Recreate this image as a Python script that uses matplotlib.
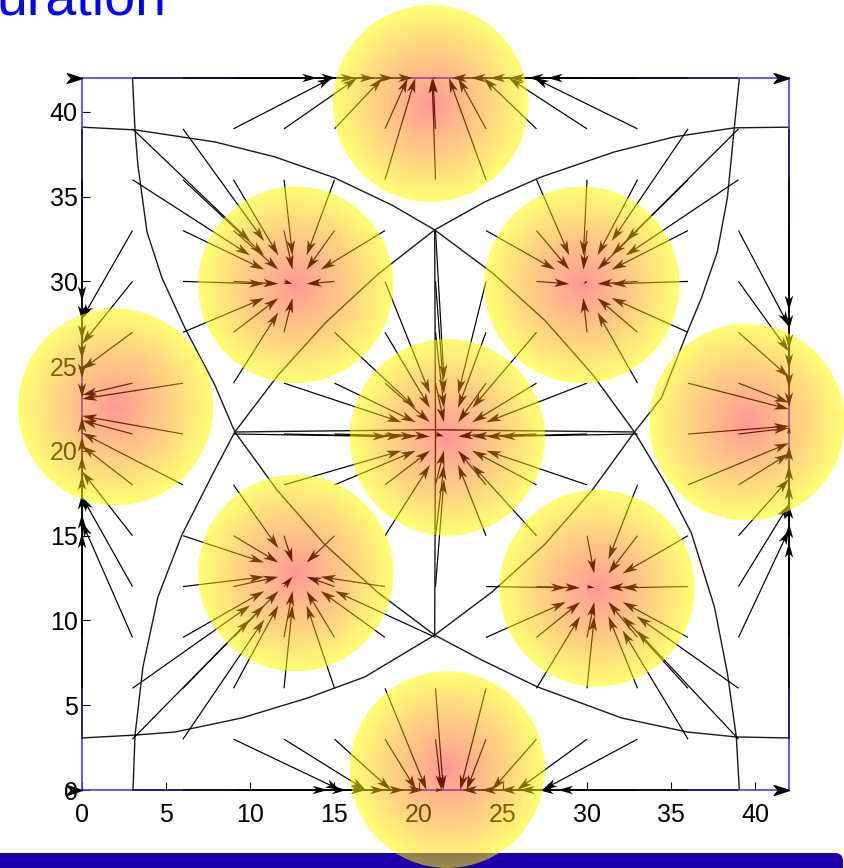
import numpy as np
import matplotlib.pyplot as plt
from matplotlib.patches import Circle, FancyBboxPatch
from matplotlib.path import Path

plt.rcParams['font.family'] = ['Liberation Sans', 'DejaVu Sans']

DOMAIN = 42.0
GRID_STEP = 3.0

# agents: circle centres and sensing radius
agent_ids = ["T", "UL", "UR", "L", "C", "R", "LL", "LR", "B"]
agent_x = [20.7, 12.7, 29.7, 2.0, 21.7, 39.5, 12.7, 30.6, 21.7]
agent_y = [40.5, 29.8, 29.8, 22.6, 20.8, 21.7, 12.8, 11.9, 1.2]
sensing_radius = 5.8

# where the gradient field of each cell points
goal_x = [20.7, 12.7, 29.7, -3.0, 21.7, 45.0, 12.7, 30.6, 21.7]
goal_y = [45.0, 29.8, 29.8, 22.6, 20.8, 21.7, 12.8, 11.9, -3.0]
gain = 0.72
border_gain = 0.62

# owner of every interior grid node, x = 3..39, rows from y = 39 down to y = 3
field_rows = [
    "UL UL T  T  T  T  T  T  T  T  T  UR UR",
    "UL UL UL UL UL T  T  T  UR UR UR UR UR",
    "L  UL UL UL UL UL C  UR UR UR UR UR R",
    "L  UL UL UL UL C  C  C  UR UR UR UR R",
    "L  UL UL UL C  C  C  C  C  UR UR UR R",
    "L  L  UL C  C  C  C  C  C  C  UR R  R",
    "L  L  C  C  C  C  C  C  C  C  C  R  R",
    "L  L  LL C  C  C  C  C  C  C  LR R  R",
    "L  LL LL LL LL C  C  C  C  LR LR LR R",
    "L  LL LL LL LL LL C  LR LR LR LR LR R",
    "L  LL LL LL LL LL LL LR LR LR LR LR R",
    "LL LL LL LL LL B  B  B  LR LR LR LR LR",
    "LL LL B  B  B  B  B  B  B  B  B  LR LR",
]

# cell boundaries (x list, y list)
cell_edges = [
    ([0.0, 3.15], [39.1, 38.94]),
    ([3.0, 3.15], [42.0, 38.94]),
    ([3.15, 7.89, 11.45, 15.01, 18.40, 20.95], [38.94, 38.23, 37.35, 36.11, 34.51, 33.04]),
    ([20.95, 23.92, 27.30, 31.63, 35.19, 38.75], [33.04, 34.69, 36.17, 37.64, 38.53, 39.06]),
    ([39.05, 38.75], [42.0, 39.06]),
    ([38.75, 42.0], [39.06, 39.1]),
    ([3.15, 3.32, 3.86, 4.75, 6.11, 7.89, 9.08], [38.94, 36.87, 32.92, 30.21, 27.26, 23.89, 21.12]),
    ([38.75, 38.34, 37.74, 36.80, 35.96, 34.42, 32.82], [39.06, 34.93, 31.74, 29.03, 27.02, 23.13, 21.12]),
    ([9.08, 7.89, 5.93, 4.51, 3.62, 3.15], [21.12, 18.88, 15.04, 11.39, 7.26, 3.24]),
    ([32.82, 34.78, 36.20, 37.57, 38.34, 38.87], [21.12, 17.88, 15.16, 10.80, 6.90, 3.13]),
    ([3.15, 5.52, 9.50, 13.41, 16.80, 20.95], [3.24, 3.42, 4.25, 5.43, 6.67, 9.14]),
    ([20.95, 23.74, 27.06, 32.05, 35.96, 38.87], [9.14, 7.67, 6.08, 4.25, 3.42, 3.13]),
    ([0.0, 3.15], [3.07, 3.24]),
    ([3.03, 3.15], [0.0, 3.24]),
    ([39.05, 38.87], [0.0, 3.13]),
    ([38.87, 42.0], [3.13, 3.07]),
    ([9.08, 11.67, 14.5, 17.6, 20.95], [21.12, 24.5, 27.6, 30.44, 33.04]),
    ([20.95, 24.37, 27.5, 30.3, 32.82], [33.04, 30.51, 27.7, 24.55, 21.12]),
    ([32.82, 30.3, 27.5, 24.37, 20.95], [21.12, 17.68, 14.5, 11.69, 9.14]),
    ([20.95, 17.53, 14.4, 11.6, 9.08], [9.14, 11.69, 14.5, 17.68, 21.12]),
    ([9.08, 20.95, 32.82], [21.12, 21.25, 21.12]),
    ([20.95, 21.0, 20.95], [33.04, 21.1, 9.14]),
]

x_ticks = [0, 5, 10, 15, 20, 25, 30, 35, 40]
y_ticks = [0, 5, 10, 15, 20, 25, 30, 35, 40]


def keep_inside(x0, y0, u, v):
    """Shorten a vector so its tip stays inside the square."""
    s = 1.0
    for p, d in ((x0, u), (y0, v)):
        if d != 0 and p + d > DOMAIN:
            s = min(s, (DOMAIN - p) / d)
        if d != 0 and p + d < 0:
            s = min(s, -p / d)
    return u * s, v * s


def build_field():
    idx = {name: i for i, name in enumerate(agent_ids)}
    nodes = np.arange(GRID_STEP, DOMAIN, GRID_STEP)
    X, Y, U, V = [], [], [], []
    for row, y0 in zip(field_rows, nodes[::-1]):
        for name, x0 in zip(row.split(), nodes):
            k = idx[name]
            u, v = keep_inside(x0, y0, gain * (goal_x[k] - x0), gain * (goal_y[k] - y0))
            X.append(x0); Y.append(y0); U.append(u); V.append(v)
    # nodes on the border only slide along it
    for e in nodes:
        X += [e, e, 0.0, DOMAIN]
        Y += [0.0, DOMAIN, e, e]
        U += [border_gain * (goal_x[idx["B"]] - e), border_gain * (goal_x[idx["T"]] - e), 0.0, 0.0]
        V += [0.0, 0.0, border_gain * (goal_y[idx["L"]] - e), border_gain * (goal_y[idx["R"]] - e)]
    return map(np.array, (X, Y, U, V))


def disc_rgba(n=240):
    t = np.linspace(-1, 1, n)
    gx, gy = np.meshgrid(t, t)
    r = np.clip(np.hypot(gx, gy), 0, 1)
    rgba = np.zeros((n, n, 4))
    rgba[..., 0] = 1.0
    rgba[..., 1] = r ** 0.8
    rgba[..., 2] = 0.0
    rgba[..., 3] = 0.42 + 0.13 * r
    return rgba


fig = plt.figure(figsize=(8.45, 8.68), dpi=100)

# slide footer band
band = fig.add_axes([0, 0, 1, 1], zorder=0)
band.set_xlim(0, 845)
band.set_ylim(0, 868)
band.axis("off")
band.add_patch(FancyBboxPatch((-20, -20), 863, 35, boxstyle="round,pad=0,rounding_size=8",
                              facecolor="#1c00a8", edgecolor="none"))

fig.text(-0.004, 0.983, "uration", color="#0000ff", fontsize=40, va="baseline", ha="left")

ax = fig.add_axes([82 / 845, 78 / 868, 707 / 845, 712 / 868], zorder=1)

for xs, ys in cell_edges:
    ax.plot(xs, ys, color="#1a1a1a", lw=1.0, zorder=2, clip_on=False)

X, Y, U, V = build_field()
q = ax.quiver(X, Y, U, V, angles="xy", scale_units="xy", scale=1, color="black",
              width=0.0017, headwidth=7, headlength=12.5, headaxislength=9.5, zorder=3)
q.set_clip_on(False)

# zero vectors at the corners are drawn as bare heads
head = Path([(0, 0), (-1, 0.32), (-0.72, 0), (-1, -0.32), (0, 0)],
            [Path.MOVETO, Path.LINETO, Path.LINETO, Path.LINETO, Path.CLOSEPOLY])
ax.plot([0, 0, DOMAIN, DOMAIN], [0, DOMAIN, 0, DOMAIN], linestyle="none", marker=head,
        markersize=22, color="black", clip_on=False, zorder=3)

img = disc_rgba()
for cx, cy in zip(agent_x, agent_y):
    disc = Circle((cx, cy), sensing_radius, transform=ax.transData)
    im = ax.imshow(img, extent=(cx - sensing_radius, cx + sensing_radius,
                                cy - sensing_radius, cy + sensing_radius),
                   origin="lower", aspect="auto", interpolation="bilinear",
                   zorder=10, clip_path=disc)
    im.set_clip_box(fig.bbox)

ax.set_xlim(0, DOMAIN)
ax.set_ylim(0, DOMAIN)
ax.set_xticks(x_ticks)
ax.set_yticks(y_ticks)
ax.tick_params(direction="in", length=6, width=0.8, color="black", labelsize=18)
ax.tick_params(axis="x", pad=9)
ax.tick_params(axis="y", pad=3)
for side in ax.spines.values():
    side.set_color("#4c3cff")
    side.set_linewidth(1.2)

fig.savefig("out.png", dpi=100)
